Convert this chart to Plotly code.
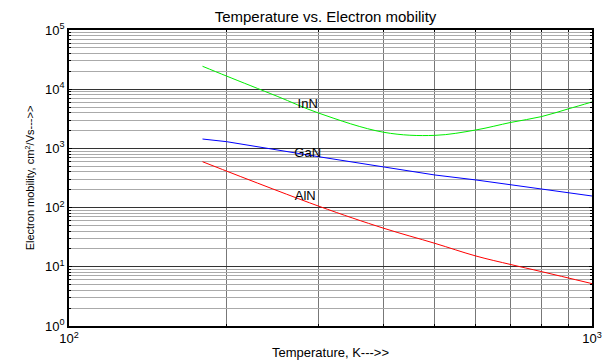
import plotly.graph_objects as go

T = [180, 200, 250, 300, 400, 500, 600, 700, 800, 900, 1000]
inn = [24400, 16700, 7600, 3960, 1870, 1660, 2050, 2750, 3440, 4640, 6080]
T_gan = [180, 200, 300, 400, 500, 600, 800, 1000]
gan = [1440, 1300, 724, 491, 356, 293, 204, 157]
T_aln = [180, 300, 400, 500, 600, 700, 800, 1000]
aln = [596, 106, 44.7, 25, 15.2, 10.9, 8.3, 5.2]

labels = ["InN", "GaN", "AlN"]
label_T = [286, 286, 283]
label_y = [5400, 804, 151]

x_tickvals = [100, 1000]
x_ticktext = ["10<sup>2</sup>", "10<sup>3</sup>"]
y_tickvals = [1, 10, 100, 1000, 10000, 100000]
y_ticktext = ["10<sup>0</sup>", "10<sup>1</sup>", "10<sup>2</sup>", "10<sup>3</sup>", "10<sup>4</sup>", "10<sup>5</sup>"]

font = "Liberation Sans, Arial, sans-serif"

fig = go.Figure()
fig.add_trace(go.Scatter(x=T, y=inn, mode="lines", line=dict(color="#00ee00", width=1, shape="spline"), showlegend=False))
fig.add_trace(go.Scatter(x=T_gan, y=gan, mode="lines", line=dict(color="#0000ff", width=1), showlegend=False))
fig.add_trace(go.Scatter(x=T_aln, y=aln, mode="lines", line=dict(color="#ff0000", width=1, shape="spline"), showlegend=False))
fig.add_trace(go.Scatter(x=label_T, y=label_y, mode="text", text=labels,
                         textfont=dict(family=font, size=13, color="black"),
                         textposition="middle center", showlegend=False))

fig.update_layout(
    width=611, height=361,
    margin=dict(l=69, r=19, t=30, b=35, autoexpand=False),
    paper_bgcolor="white", plot_bgcolor="white",
    title=dict(text="Temperature vs. Electron mobility", x=325.5 / 611, xanchor="center",
               y=1 - 17 / 361, yanchor="middle", font=dict(family=font, size=15, color="black")),
    font=dict(family=font, size=13, color="black"),
)
fig.update_xaxes(
    type="log", range=[2, 3], automargin=False,
    tickvals=x_tickvals, ticktext=x_ticktext,
    showline=True, linecolor="black", linewidth=1.5, mirror="allticks",
    ticks="inside", ticklen=3, tickcolor="black",
    showgrid=True, gridcolor="#555555", gridwidth=1,
    minor=dict(dtick="D1", showgrid=True, gridcolor="#777777", ticks="inside", ticklen=2, tickcolor="black"),
    zeroline=False,
    tickfont=dict(family=font, size=13),
    title=dict(text="Temperature, K--->>", font=dict(family=font, size=13), standoff=3),
)
fig.update_yaxes(
    type="log", range=[0, 5], automargin=False,
    tickvals=y_tickvals, ticktext=y_ticktext,
    showline=True, linecolor="black", linewidth=1.5, mirror="allticks",
    ticks="inside", ticklen=3, tickcolor="black",
    showgrid=True, gridcolor="#333333", gridwidth=1,
    minor=dict(dtick="D1", showgrid=True, gridcolor="#aaaaaa", ticks="inside", ticklen=2, tickcolor="black"),
    zeroline=False,
    tickfont=dict(family=font, size=13),
    title=dict(text="Electron mobility, cm<sup>2</sup>/Vs--->>", font=dict(family=font, size=11), standoff=8),
)
fig.write_html("out.html")
